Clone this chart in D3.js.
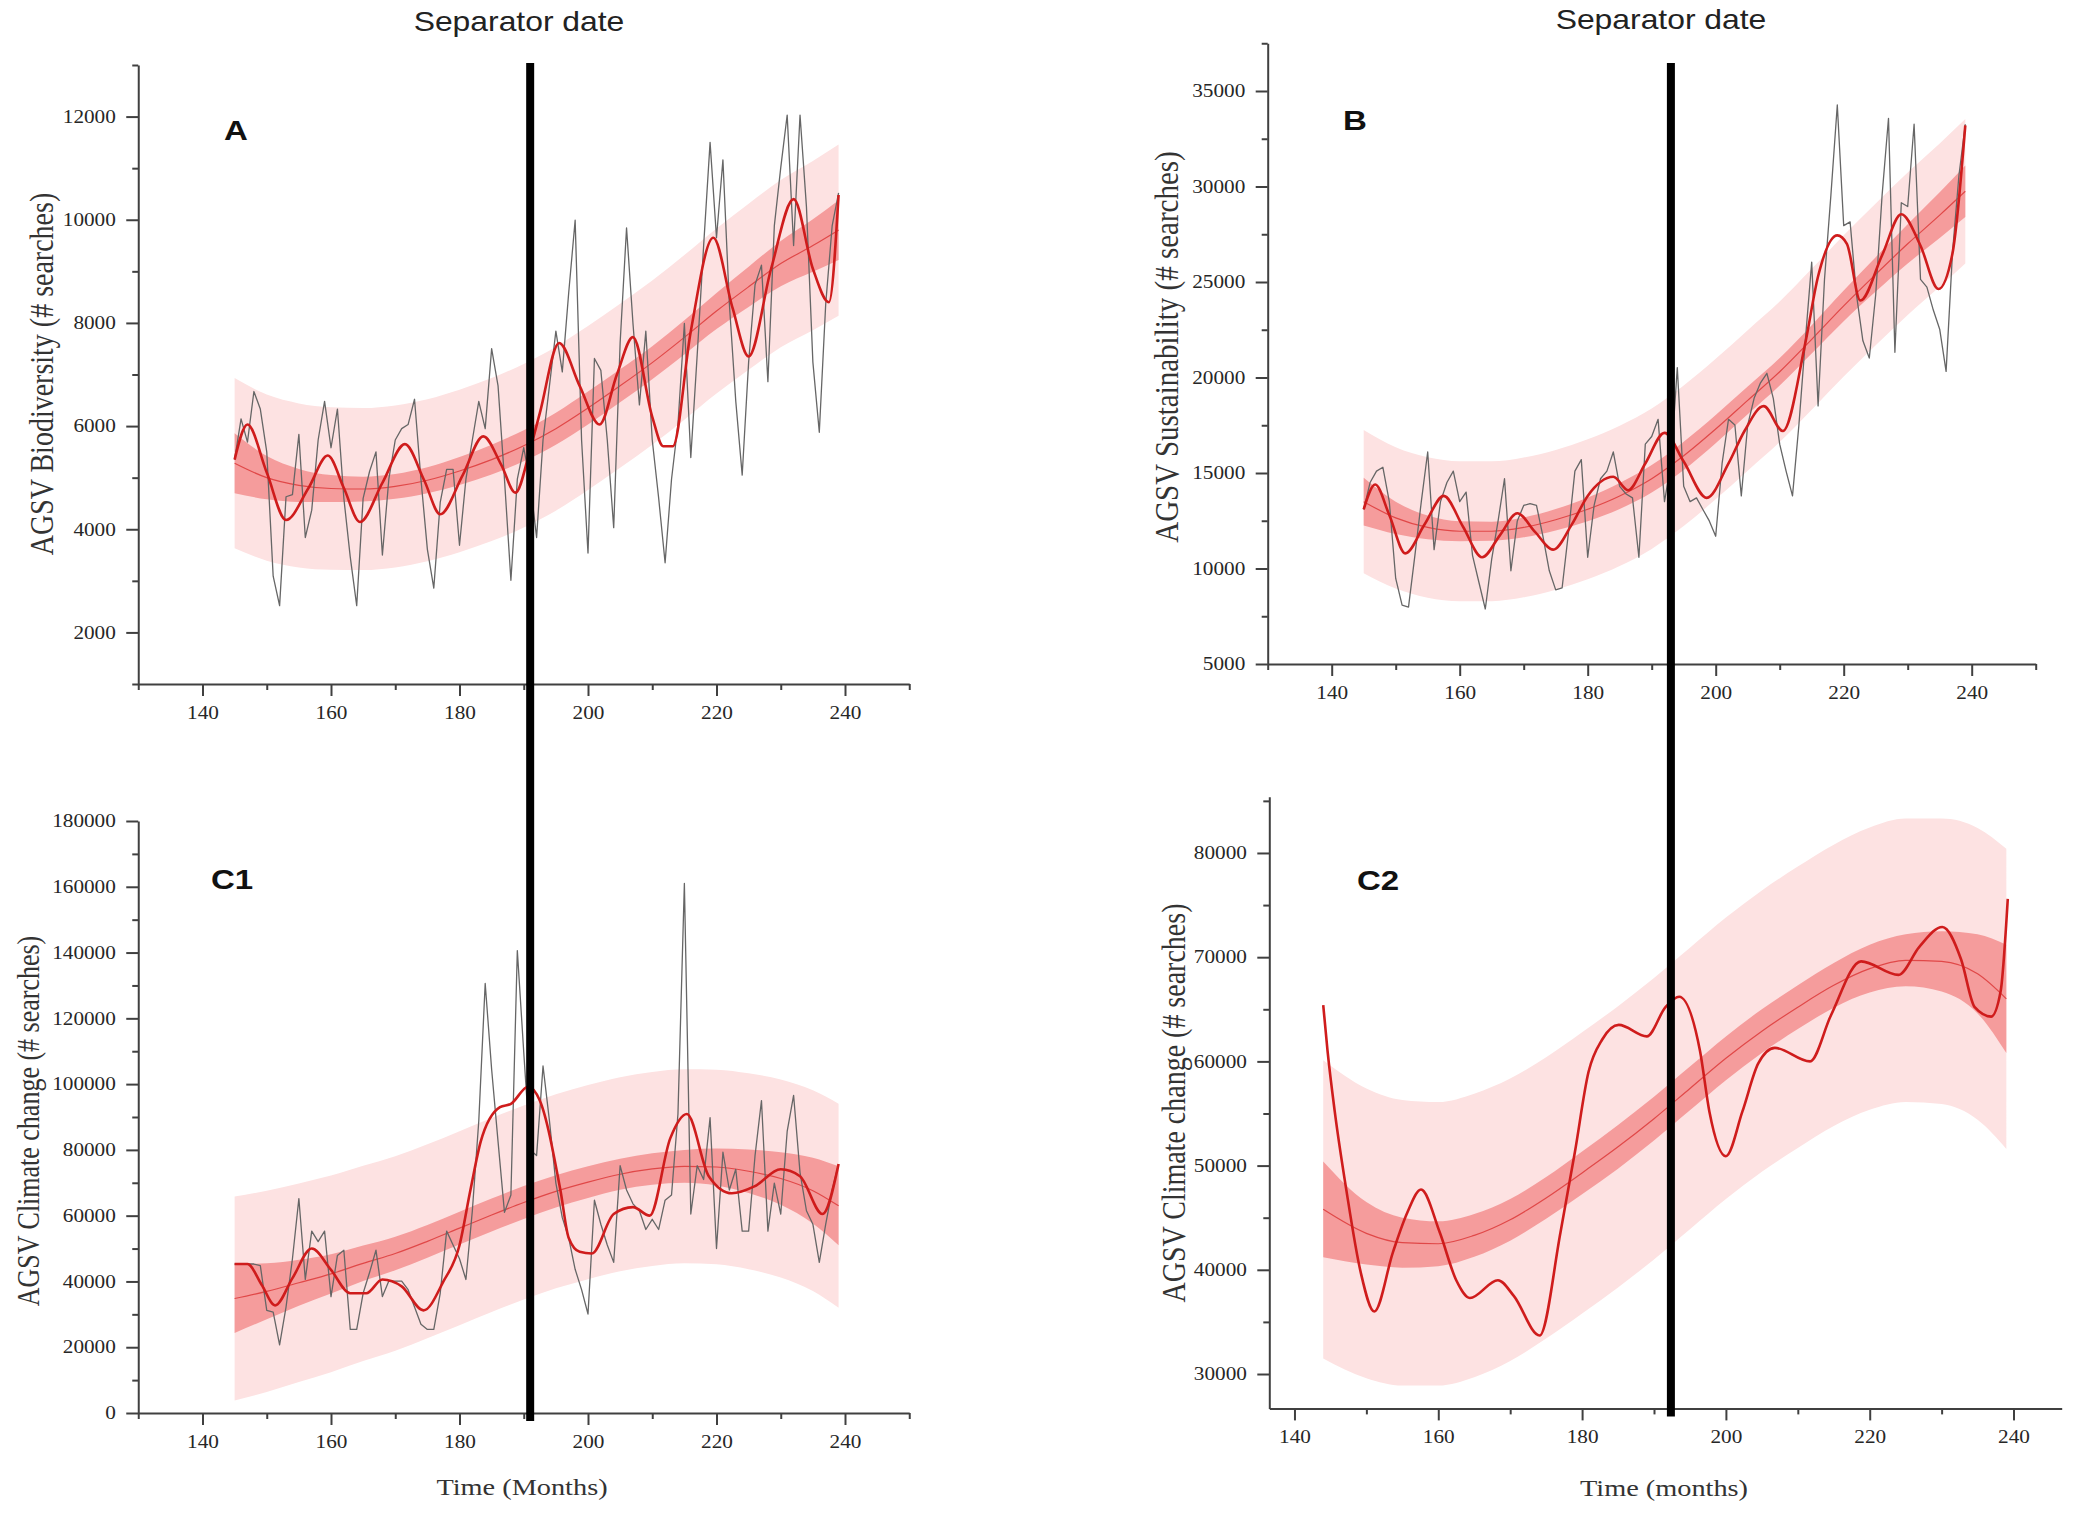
<!DOCTYPE html>
<html lang="en">
<head>
    <meta charset="UTF-8">
    <title>AGSV searches around the separator date</title>
    <script src="https://d3js.org/d3.v7.min.js"></script>
    <style>
        body { margin: 0; background: #fff; }
        svg { display: block; }
        .pred-band { fill: #fde2e2; stroke: none; }
        .conf-band { fill: #f59c9c; stroke: none; }
        .fit-line { fill: none; stroke: #e04848; stroke-width: 1.2px; }
        .raw-line { fill: none; stroke: #666; stroke-width: 1.3px; stroke-linejoin: round; }
        .smooth-line { fill: none; stroke: #cf1c1c; stroke-width: 2.6px; stroke-linejoin: round; }
        .axis .domain, .axis .tick line { stroke: #404040; stroke-width: 2px; }
        .axis .tick text { font-family: "Liberation Serif", "Times New Roman", serif; font-size: 18px; fill: #262626; }
        .sep-title { font-family: "Liberation Sans", Arial, sans-serif; font-size: 27px; fill: #222; text-anchor: middle; }
        .panel-label { font-family: "Liberation Sans", Arial, sans-serif; font-size: 28px; font-weight: bold; fill: #111; text-anchor: middle; }
        .axis-title { font-family: "Liberation Serif", "Times New Roman", serif; fill: #333; text-anchor: middle; }
        .separator { stroke: #000; stroke-width: 8px; }
    </style>
</head>
<body>
<script>
const W = 2073;
const H = 1517;
// the source figure is stretched sideways, so text is stretched the same way
const STRETCH = 1.18;

// ---- data ----
const rawMonths = d3.range(145, 240);   // month 145 .. 239
const fitMonths = [145, 150, 155, 160, 165, 170, 175, 180, 185, 190, 195, 200, 205, 210, 215, 220, 225, 230, 235, 239];
const fitMonthsC2 = [144, 150, 155, 160, 165, 170, 175, 180, 185, 190, 195, 200, 205, 210, 215, 220, 225, 230, 235, 239];
const separatorMonth = [191, 193];

// A - Biodiversity
const rawA = [
    5350, 6140, 5690, 6670, 6330, 5500, 3090, 2520, 4630, 4670,
    5840, 3840, 4370, 5730, 6480, 5580, 6330, 4600, 3460, 2520,
    4600, 5120, 5500, 3500, 4970, 5730, 5950, 6030, 6520, 4970,
    3610, 2860, 4520, 5160, 5160, 3690, 4970, 5730, 6480, 5950,
    7500, 6780, 4970, 3010, 4970, 5580, 4900, 3840, 5730, 6780,
    7840, 7050, 8590, 9990, 5730, 3540, 7310, 7080, 5730, 4030,
    7610, 9840, 7990, 6410, 7840, 5730, 4600, 3350, 4970, 6030,
    7990, 5390, 7390, 9500, 11500, 9650, 11160, 8370, 6480, 5050,
    7240, 8740, 9120, 6860, 9880, 11010, 12030, 9500, 12030, 10250,
    7240, 5880, 8370, 9880, 10520
];
const smoothMonthsA = [145, 147, 150, 153, 156.5, 159.5, 162, 164.5, 168, 171.5, 174.5, 177, 180.5, 183.7, 186.5, 188.7,
    191, 192.5, 195.5, 198.7, 201.8, 204.5, 207, 210, 211.7, 213.2, 216, 219.5, 222.5, 225, 228.5, 232, 235, 237.5, 239];
const smoothA = [5350, 6030, 5100, 4180, 4800, 5430, 4800, 4140, 4900, 5650, 4950, 4290, 5050, 5800, 5250, 4710,
    5550, 6250, 7610, 6780, 6030, 7000, 7725, 6180, 5610, 5610, 7840, 9650, 8290, 7350, 9050, 10400, 9050, 8400, 10480];
const fitA = [5280, 5000, 4850, 4790, 4780, 4830, 4950, 5130, 5350, 5620, 5950, 6350, 6780, 7230, 7720, 8230, 8700, 9150, 9500, 9800];
const confLowA = [4700, 4580, 4530, 4530, 4540, 4590, 4700, 4860, 5060, 5320, 5640, 6030, 6460, 6910, 7390, 7880, 8310, 8710, 8990, 9220];
const confHighA = [5860, 5420, 5170, 5050, 5020, 5070, 5200, 5400, 5640, 5920, 6260, 6670, 7100, 7550, 8050, 8580, 9090, 9590, 10010, 10380];
const predLowA = [3630, 3390, 3260, 3215, 3210, 3260, 3380, 3555, 3770, 4035, 4360, 4760, 5190, 5640, 6125, 6630, 7090, 7530, 7860, 8140];
const predHighA = [6930, 6610, 6440, 6365, 6350, 6400, 6520, 6705, 6930, 7205, 7540, 7940, 8370, 8820, 9315, 9830, 10310, 10770, 11140, 11460];

// B - Sustainability
const rawB = [
    13090, 14500, 15100, 15300, 13500, 9480, 8080, 7980, 10690, 13500,
    16100, 10990, 13500, 14500, 15100, 13500, 14000, 10690, 9280, 7880,
    10490, 12490, 14700, 9880, 12490, 13300, 13400, 13300, 11690, 9880,
    8880, 8980, 11890, 15100, 15700, 10590, 13300, 14700, 15100, 16100,
    14300, 13900, 13700, 10590, 16510, 16910, 17810, 13500, 15500, 20520,
    14300, 13500, 13700, 13090, 12490, 11690, 15500, 17810, 17510, 13800,
    17510, 18910, 19720, 20220, 18910, 16510, 15100, 13800, 17510, 21920,
    26040, 18510, 25140, 29550, 34270, 27950, 28150, 24330, 21920, 21020,
    24330, 29550, 33570, 21320, 29150, 28950, 33260, 25140, 24730, 23530,
    22530, 20320, 26540, 30560, 33260
];
const smoothMonthsB = [145, 146.8, 149, 151.5, 154.5, 157.5, 160.5, 163.5, 166.3, 169, 171.8, 174.6, 177.5, 180, 184, 186.3,
    189, 192, 195, 198.6, 202, 204.5, 207.5, 210.5, 214, 216, 219, 220.5, 222.6, 226, 229, 232, 234.8, 237, 239];
const smoothB = [13100, 14400, 12800, 10790, 12300, 13800, 12200, 10590, 11750, 12890, 11900, 10990, 12300, 13800, 14800, 14100,
    15500, 17100, 15600, 13700, 15500, 17200, 18500, 17200, 21800, 25300, 27440, 27000, 24030, 26400, 28550, 26900, 24630, 26500, 33200];
const fitB = [13500, 12650, 12150, 11950, 11950, 12150, 12550, 13100, 13800, 14700, 15900, 17300, 18800, 20300, 22000, 23750, 25400, 27000, 28500, 29750];
const confLowB = [12250, 11800, 11530, 11430, 11450, 11630, 11990, 12480, 13120, 13980, 15160, 16560, 18070, 19580, 21260, 22950, 24500, 25970, 27300, 28400];
const confHighB = [14750, 13500, 12770, 12470, 12450, 12670, 13110, 13720, 14480, 15420, 16640, 18040, 19530, 21020, 22740, 24550, 26300, 28030, 29700, 31100];
const predLowB = [9750, 8950, 8470, 8280, 8290, 8490, 8890, 9435, 10130, 11025, 12220, 13620, 15120, 16620, 18310, 20050, 21690, 23270, 24750, 25970];
const predHighB = [17250, 16350, 15830, 15620, 15610, 15810, 16210, 16765, 17470, 18375, 19580, 20980, 22480, 23980, 25690, 27450, 29110, 30730, 32250, 33530];

// C1 - Climate change, monthly
const rawC1 = [
    45300, 45300, 45300, 45300, 44800, 31200, 30700, 20700, 32200, 46900,
    65200, 40600, 55300, 52100, 55300, 35400, 47900, 49500, 25400, 25400,
    36400, 42700, 49500, 35400, 40100, 40100, 40100, 37500, 32200, 27000,
    25400, 25400, 36400, 55300, 51100, 46900, 40600, 61500, 88800, 130600,
    104500, 82500, 61000, 66300, 140600, 109700, 80000, 78300, 105500, 88800,
    69900, 59400, 53200, 43700, 37500, 30100, 64700, 57400, 51100, 45800,
    75200, 67800, 63600, 61500, 55800, 58900, 55800, 64700, 66300, 90900,
    161000, 60500, 75200, 71000, 89800, 50000, 79300, 67800, 74100, 55300,
    55300, 78300, 95000, 55300, 69900, 60500, 85600, 96600, 73100, 61500,
    57400, 45800, 57400, 67800, 75700
];
const smoothMonthsC1 = [145, 147, 149.2, 151.3, 154, 157, 160, 163, 165.5, 168, 171, 174.4, 177.5, 180, 181.7, 183.3, 186.3, 188,
    190.7, 192.5, 195.7, 197, 198.7, 200.6, 204, 207, 209.6, 212.8, 215.4, 218.8, 222.4, 225.9, 230, 233, 236.5, 239];
const smoothC1 = [45300, 45300, 39000, 32700, 41000, 50000, 43500, 36400, 36400, 40600, 38500, 31200, 40000, 51000, 67800, 82500, 93000, 94000,
    99200, 95000, 67800, 53200, 49000, 48500, 60500, 62600, 60000, 83500, 90900, 72000, 66800, 68900, 74100, 72000, 60500, 75700];
const fitC1 = [34800, 37000, 39600, 42300, 45500, 48500, 52200, 56200, 60200, 64000, 67400, 70200, 72600, 74200, 75000, 74800, 73500, 71300, 67600, 63000];
const confLowC1 = [24300, 28500, 32600, 36300, 40100, 43400, 47200, 51200, 55200, 59000, 62500, 65400, 67900, 69400, 70000, 69200, 66900, 63300, 57600, 51000];
const confHighC1 = [45300, 45500, 46600, 48300, 50900, 53600, 57200, 61200, 65200, 69000, 72300, 75000, 77300, 79000, 80000, 80400, 80100, 79300, 77600, 75000];
const predLowC1 = [3800, 6400, 9400, 12400, 15800, 18900, 22700, 26700, 30700, 34500, 37900, 40700, 43100, 44700, 45500, 45200, 43700, 41200, 37100, 32000];
const predHighC1 = [65800, 67600, 69800, 72200, 75200, 78100, 81700, 85700, 89700, 93500, 96900, 99700, 102100, 103700, 104500, 104400, 103300, 101400, 98100, 94000];

// C2 - Climate change, smoothed series only
const smoothMonthsC2 = [144, 144.6, 145.6, 147.25, 149.2, 151.1, 153.7, 155.7, 157.6, 160.2, 162.5, 164.4, 168.3, 170.5, 174.1, 177, 179,
    180.9, 182.8, 185.1, 189, 191.6, 193.5, 196.4, 197.7, 200, 202.3, 204.5, 206.8, 211.7, 214.6, 218.8, 224, 226.9, 230.1, 232.7, 234.6,
    236.9, 238.2, 239.2];
const smoothC2 = [65400, 61000, 55200, 47500, 39800, 36000, 41700, 45500, 47700, 43600, 39000, 37300, 39000, 37500, 33700, 43600, 51300,
    59000, 62100, 63500, 62400, 65200, 66200, 61000, 55200, 50900, 55200, 59800, 61300, 60000, 64400, 69600, 68300, 71000, 72900, 69800, 65200,
    64300, 66700, 75600];
const fitC2 = [45800, 43500, 42600, 42500, 43300, 44800, 46900, 49300, 51800, 54500, 57400, 60300, 62900, 65200, 67300, 68900, 69700, 69600, 68400, 66000];
const confLowC2 = [41200, 40500, 40200, 40350, 41250, 42800, 44900, 47250, 49700, 52400, 55300, 58200, 60800, 63100, 65150, 66600, 67200, 66700, 64600, 60800];
const confHighC2 = [50400, 46500, 45000, 44650, 45350, 46800, 48900, 51350, 53900, 56600, 59500, 62400, 65000, 67300, 69450, 71200, 72200, 72500, 72200, 71200];
const predLowC2 = [31500, 29600, 28900, 28900, 29700, 31250, 33400, 35800, 38300, 41000, 43900, 46800, 49400, 51700, 53800, 55350, 56100, 55900, 54400, 51600];
const predHighC2 = [60100, 57400, 56300, 56100, 56900, 58350, 60400, 62800, 65300, 68000, 70900, 73800, 76400, 78700, 80800, 82450, 83300, 83300, 82400, 80400];

// tick values
const xTicks = [140, 160, 180, 200, 220, 240];
const xMinorTicks = [130, 150, 170, 190, 210, 230, 250];
const xMinorTicksC2 = [150, 170, 190, 210, 230];
const yTicksA = [2000, 4000, 6000, 8000, 10000, 12000];
const yMinorA = [1000, 3000, 5000, 7000, 9000, 11000, 13000];
const yTicksB = [5000, 10000, 15000, 20000, 25000, 30000, 35000];
const yMinorB = [7500, 12500, 17500, 22500, 27500, 32500, 37500];
const yTicksC1 = [0, 20000, 40000, 60000, 80000, 100000, 120000, 140000, 160000, 180000];
const yMinorC1 = [10000, 30000, 50000, 70000, 90000, 110000, 130000, 150000, 170000];
const yTicksC2 = [30000, 40000, 50000, 60000, 70000, 80000];
const yMinorC2 = [35000, 45000, 55000, 65000, 75000, 85000];

// ---- layout ----
const panels = [
    { id: "A", xDomain: [130, 250], xRange: [138.25, 909.25], yDomain: [1000, 13000], yRange: [684, 65],
      yTicks: yTicksA, yMinor: yMinorA, xMinor: xMinorTicks,
      label: { x: 236, y: 140 }, yTitle: { text: "AGSV Biodiversity (# searches)", x: 53, y: 374, size: 28 },
      raw: rawA, smoothMonths: smoothMonthsA, smooth: smoothA, fitMonths: fitMonths,
      fit: fitA, confLow: confLowA, confHigh: confHighA, predLow: predLowA, predHigh: predHighA },
    { id: "B", xDomain: [130, 250], xRange: [1267.7, 2035.7], yDomain: [5000, 37500], yRange: [664, 43.25],
      yTicks: yTicksB, yMinor: yMinorB, xMinor: xMinorTicks,
      label: { x: 1355, y: 130 }, yTitle: { text: "AGSV Sustainability (# searches)", x: 1178, y: 347, size: 29 },
      raw: rawB, smoothMonths: smoothMonthsB, smooth: smoothB, fitMonths: fitMonths,
      fit: fitB, confLow: confLowB, confHigh: confHighB, predLow: predLowB, predHigh: predHighB },
    { id: "C1", xDomain: [130, 250], xRange: [138.25, 909.25], yDomain: [0, 180000], yRange: [1413, 821],
      yTicks: yTicksC1, yMinor: yMinorC1, xMinor: xMinorTicks,
      label: { x: 232, y: 889 }, yTitle: { text: "AGSV Climate change (# searches)", x: 38.5, y: 1121, size: 26 },
      xTitle: { text: "Time (Months)", x: 522, y: 1495 },
      raw: rawC1, smoothMonths: smoothMonthsC1, smooth: smoothC1, fitMonths: fitMonths,
      fit: fitC1, confLow: confLowC1, confHigh: confHighC1, predLow: predLowC1, predHigh: predHighC1 },
    { id: "C2", xDomain: [136.5, 246.7], xRange: [1269.3, 2061.7], yDomain: [26700, 85400], yRange: [1408.4, 796.7],
      yTicks: yTicksC2, yMinor: yMinorC2, xMinor: xMinorTicksC2,
      label: { x: 1378, y: 890 }, yTitle: { text: "AGSV Climate change (# searches)", x: 1184.5, y: 1103, size: 28 },
      xTitle: { text: "Time (months)", x: 1664, y: 1496 },
      raw: null, smoothMonths: smoothMonthsC2, smooth: smoothC2, fitMonths: fitMonthsC2,
      fit: fitC2, confLow: confLowC2, confHigh: confHighC2, predLow: predLowC2, predHigh: predHighC2 }
];

const svg = d3.select("body")
    .append("svg")
    .attr("width", W)
    .attr("height", H);

svg.append("rect").attr("width", W).attr("height", H).attr("fill", "#fff");

function zip(months, vals) {
    return months.map((m, i) => ({ m: m, v: vals[i] }));
}
function zipBand(months, lo, hi) {
    return months.map((m, i) => ({ m: m, lo: lo[i], hi: hi[i] }));
}
function stretchedText(g, x, y, str, cls, rotated) {
    return g.append("text")
        .attr("class", cls)
        .attr("transform", `translate(${x},${y}) scale(${STRETCH},1)` + (rotated ? " rotate(-90)" : ""))
        .text(str);
}

const xScales = {};

function drawPanel(p) {
    const x = d3.scaleLinear().domain(p.xDomain).range(p.xRange);
    const y = d3.scaleLinear().domain(p.yDomain).range(p.yRange);
    xScales[p.id] = x;
    const g = svg.append("g").attr("class", "panel panel-" + p.id);

    const band = d3.area()
        .x(d => x(d.m))
        .y0(d => y(d.lo))
        .y1(d => y(d.hi))
        .curve(d3.curveMonotoneX);
    const smoothLine = d3.line().x(d => x(d.m)).y(d => y(d.v)).curve(d3.curveMonotoneX);
    const rawLine = d3.line().x(d => x(d.m)).y(d => y(d.v));

    g.append("path").datum(zipBand(p.fitMonths, p.predLow, p.predHigh)).attr("class", "pred-band").attr("d", band);
    g.append("path").datum(zipBand(p.fitMonths, p.confLow, p.confHigh)).attr("class", "conf-band").attr("d", band);
    g.append("path").datum(zip(p.fitMonths, p.fit)).attr("class", "fit-line").attr("d", smoothLine);
    if (p.raw) {
        g.append("path").datum(zip(rawMonths, p.raw)).attr("class", "raw-line").attr("d", rawLine);
    }
    g.append("path").datum(zip(p.smoothMonths, p.smooth)).attr("class", "smooth-line").attr("d", smoothLine);

    // axes
    const xAxisY = p.yRange[0];
    const yAxisX = p.xRange[0];

    const xa = g.append("g").attr("class", "axis").attr("transform", `translate(0,${xAxisY})`)
        .call(d3.axisBottom(x).tickValues(xTicks).tickSize(12).tickSizeOuter(0).tickPadding(10).tickFormat(d3.format("d")));
    xa.selectAll(".tick text").attr("transform", `scale(${STRETCH},1)`);
    g.append("g").attr("class", "axis").attr("transform", `translate(0,${xAxisY})`)
        .call(d3.axisBottom(x).tickValues(p.xMinor).tickSize(6).tickSizeOuter(0).tickFormat(""))
        .select(".domain").remove();

    const ya = g.append("g").attr("class", "axis").attr("transform", `translate(${yAxisX},0)`)
        .call(d3.axisLeft(y).tickValues(p.yTicks).tickSize(12).tickSizeOuter(0).tickPadding(7).tickFormat(d3.format("d")));
    ya.selectAll(".tick text").attr("transform", `scale(${STRETCH},1)`);
    g.append("g").attr("class", "axis").attr("transform", `translate(${yAxisX},0)`)
        .call(d3.axisLeft(y).tickValues(p.yMinor).tickSize(6).tickSizeOuter(0).tickFormat(""))
        .select(".domain").remove();

    // texts
    stretchedText(g, p.label.x, p.label.y, p.id, "panel-label", false);
    stretchedText(g, p.yTitle.x, p.yTitle.y, p.yTitle.text, "axis-title", true)
        .style("font-size", p.yTitle.size + "px");
    if (p.xTitle) {
        stretchedText(g, p.xTitle.x, p.xTitle.y, p.xTitle.text, "axis-title", false)
            .style("font-size", "24px");
    }
}

panels.forEach(drawPanel);

// separator lines run from the top panels down to the x axis of the lower panels
const separators = [
    { x: xScales.A(separatorMonth[0]), bottom: panels[2].yRange[0] + 8 },
    { x: xScales.B(separatorMonth[1]), bottom: panels[3].yRange[0] + 8 }
];
svg.selectAll("line.separator")
    .data(separators)
    .enter()
    .append("line")
    .attr("class", "separator")
    .attr("x1", d => d.x)
    .attr("x2", d => d.x)
    .attr("y1", 63)
    .attr("y2", d => d.bottom);

stretchedText(svg, 519, 31, "Separator date", "sep-title", false);
stretchedText(svg, 1661, 29, "Separator date", "sep-title", false);
</script>
</body>
</html>
